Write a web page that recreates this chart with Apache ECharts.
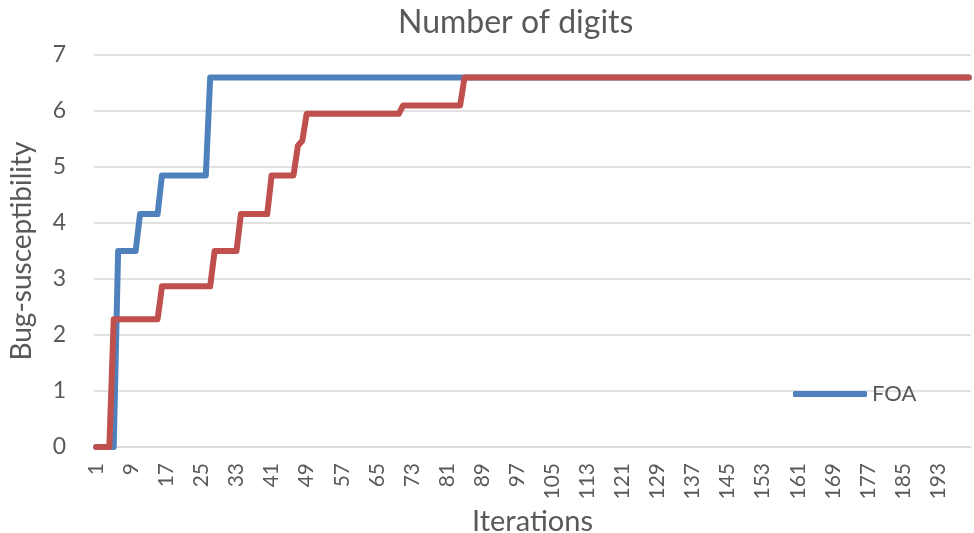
<!DOCTYPE html>
<html>
<head>
<meta charset="utf-8">
<title>Number of digits</title>
<script src="https://cdn.jsdelivr.net/npm/echarts@6/dist/echarts.min.js"></script>
<style>
  html, body { margin: 0; padding: 0; background: #fff; }
  #chart { width: 974px; height: 533px; }
</style>
</head>
<body>
<div id="chart"></div>
<script>
// Iterations 1..200 along the x axis
const iterations = [];
for (let i = 1; i <= 200; i++) iterations.push(String(i));

// FOA: iterations where the curve changes level, and the level at each
const foaIter = [1, 5, 6, 10, 11, 15, 16, 26, 27, 200];
const foaVal  = [0, 0, 3.5, 3.5, 4.16, 4.16, 4.85, 4.85, 6.6, 6.6];

// Second search run (not listed in the legend)
const otherIter = [1, 4, 5, 15, 16, 27, 28, 33, 34, 40, 41, 46, 47, 48, 49, 70, 71, 84, 85, 200];
const otherVal  = [0, 0, 2.28, 2.28, 2.87, 2.87, 3.5, 3.5, 4.16, 4.16, 4.85, 4.85, 5.38, 5.47, 5.95, 5.95, 6.1, 6.1, 6.6, 6.6];

// Y axis ticks
const yMin = 0, yMax = 7, yStep = 1;

const pairs = (xs, ys) => xs.map((x, k) => [String(x), ys[k]]);

const FONT = 'Lato, "Open Sans", sans-serif';
const TXT = '#595959';
const GRID = '#D9D9D9';

const chart = echarts.init(document.getElementById('chart'), null, { renderer: 'canvas' });
chart.setOption({
  animation: false,
  textStyle: { fontFamily: FONT, color: TXT },
  title: {
    text: 'Number of digits',
    left: 393,
    top: 2,
    textStyle: { fontFamily: FONT, fontSize: 32, fontWeight: 'normal', color: TXT }
  },
  legend: {
    data: ['FOA'],
    left: 788,
    top: 378,
    icon: 'roundRect',
    itemWidth: 74,
    itemHeight: 6,
    itemGap: 8,
    textStyle: { fontFamily: FONT, fontSize: 22, color: TXT }
  },
  grid: { left: 94, right: 3, top: 55, bottom: 86, containLabel: false, outerBoundsMode: 'none' },
  xAxis: {
    type: 'category',
    data: iterations,
    boundaryGap: true,
    name: 'Iterations',
    nameLocation: 'middle',
    nameGap: 58,
    nameTextStyle: { fontFamily: FONT, fontSize: 29, color: TXT },
    axisLine: { show: true, lineStyle: { color: GRID, width: 1.5 } },
    axisTick: { show: false },
    axisLabel: {
      interval: 7,
      rotate: 90,
      margin: 16,
      fontFamily: FONT,
      fontSize: 21,
      color: TXT
    },
    splitLine: { show: false }
  },
  yAxis: {
    type: 'value',
    min: yMin,
    max: yMax,
    interval: yStep,
    name: 'Bug-susceptibility',
    nameLocation: 'middle',
    nameGap: 58,
    nameTextStyle: { fontFamily: FONT, fontSize: 28, color: TXT },
    axisLine: { show: false },
    axisTick: { show: false },
    axisLabel: { margin: 28, fontFamily: FONT, fontSize: 23, color: TXT },
    splitLine: { show: true, lineStyle: { color: GRID, width: 1.5 } }
  },
  series: [
    {
      name: 'FOA',
      type: 'line',
      data: pairs(foaIter, foaVal),
      symbol: 'none',
      color: '#4F81BD',
      lineStyle: { width: 6, color: '#4F81BD', join: 'round', cap: 'round' }
    },
    {
      name: 'Baseline',
      type: 'line',
      data: pairs(otherIter, otherVal),
      symbol: 'none',
      color: '#C0504D',
      lineStyle: { width: 6, color: '#C0504D', join: 'round', cap: 'round' }
    }
  ]
});
</script>
</body>
</html>
